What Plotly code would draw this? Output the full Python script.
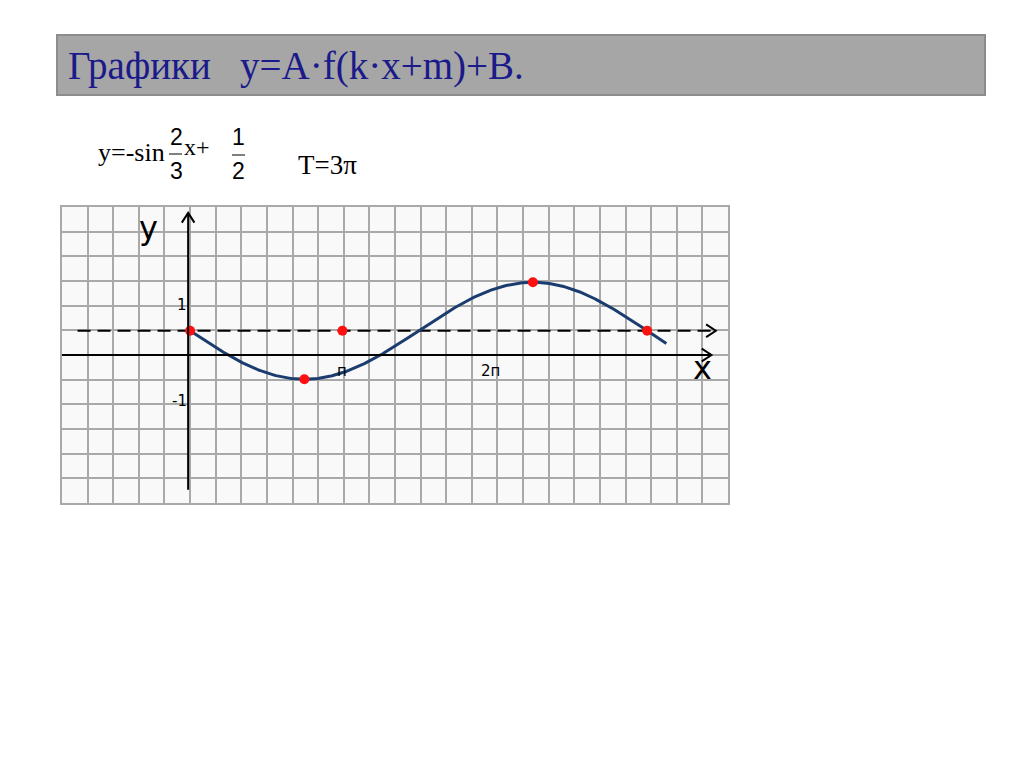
import numpy as np
import plotly.graph_objects as go

# ---- data ----
curve_x_start = 0.0
curve_x_end = 9.82
key_x = [0.0, 3 * np.pi / 4, np.pi, 9 * np.pi / 4, 3 * np.pi]
key_y = [0.5, -0.5, 0.5, 1.5, 0.5]
midline_y = 0.5
x_tick_vals = [np.pi, 2 * np.pi]
x_tick_text = ["п", "2п"]
y_tick_vals = [1.03, -0.95]
y_tick_text = ["1", "-1"]

xs = np.linspace(curve_x_start, curve_x_end, 400)
ys = -np.sin(2.0 / 3.0 * xs) + 0.5

# ---- geometry (page pixel coordinates) ----
W, H = 1024, 767
BODY = 8  # html body margin offset
L, R, T, B = 62, 728, 207, 503
PW, PH = R - L, B - T
UNIT = 48.5
gx = PW / 26 / UNIT
gy = PH / 12 / UNIT
xr = [-5 * gx, 21 * gx]
yr = [-6 * gy, 6 * gy]


def px(x):
    return (x - L) / PW


def py(y):
    return (B - y) / PH


fig = go.Figure()

# dashed midline
fig.add_trace(go.Scatter(x=[-2.32, 10.84], y=[midline_y, midline_y], mode="lines",
                         line=dict(color="black", width=2, dash="13px,7px"),
                         hoverinfo="skip", showlegend=False))
# curve
fig.add_trace(go.Scatter(x=xs, y=ys, mode="lines",
                         line=dict(color="#1b3c6e", width=3),
                         hoverinfo="skip", showlegend=False))
# key points
fig.add_trace(go.Scatter(x=key_x, y=key_y, mode="markers",
                         marker=dict(color="#ff1010", size=10),
                         hoverinfo="skip", showlegend=False))

shapes = []
# axes
shapes.append(dict(type="line", xref="x", yref="y", x0=-2.69, x1=10.75, y0=0, y1=0,
                   line=dict(color="black", width=2)))
shapes.append(dict(type="line", xref="x", yref="y", x0=-0.04, x1=-0.04, y0=-2.78, y1=2.93,
                   line=dict(color="black", width=2)))
# open arrow heads
ah, aw = 0.2, 0.13
for tip, yy in [(10.75, 0), (10.84, midline_y)]:
    shapes.append(dict(type="path", xref="x", yref="y",
                       path=f"M {tip-ah},{yy+aw} L {tip},{yy} L {tip-ah},{yy-aw}",
                       line=dict(color="black", width=2)))
shapes.append(dict(type="path", xref="x", yref="y",
                   path=f"M {-0.04-aw},{2.93-ah} L -0.04,2.93 L {-0.04+aw},{2.93-ah}",
                   line=dict(color="black", width=2)))

# title box
shapes.append(dict(type="rect", xref="paper", yref="paper",
                   x0=px(57), x1=px(985), y0=py(95), y1=py(35),
                   fillcolor="#a6a6a6", line=dict(color="#8c8c8c", width=2), layer="below"))
# fraction bars
shapes.append(dict(type="line", xref="paper", yref="paper", x0=px(169), x1=px(182),
                   y0=py(154), y1=py(154), line=dict(color="black", width=1)))
shapes.append(dict(type="line", xref="paper", yref="paper", x0=px(232), x1=px(245),
                   y0=py(155), y1=py(155), line=dict(color="black", width=1)))

annotations = []


def ann(text, x, y, size, family, color="black", xanchor="center"):
    annotations.append(dict(text=text, x=px(x), y=py(y), xref="paper", yref="paper",
                            showarrow=False, xanchor=xanchor, yanchor="middle",
                            font=dict(size=size, family=family, color=color)))


ann("Графики\u00a0\u00a0 y=A·f(k·x+m)+B.", 66, 66, 39, "Liberation Serif", "#1a1a8a", "left")
ann("y=-sin", 96, 152, 26, "Liberation Serif", xanchor="left")
ann("2", 176, 137, 23, "Liberation Sans")
ann("3", 176, 171, 23, "Liberation Sans")
ann("x+", 182, 147, 24, "Liberation Serif", xanchor="left")
ann("1", 238, 137, 23, "Liberation Sans")
ann("2", 238, 171, 23, "Liberation Sans")
ann("T=3π", 296, 165, 27, "Liberation Serif", xanchor="left")

# axis letters
ann("y", 148, 228, 32, "DejaVu Sans")
ann("x", 702, 368, 32, "DejaVu Sans")

# tick labels (data-positioned)
for v, t in zip(x_tick_vals, x_tick_text):
    annotations.append(dict(text=t, x=v, y=-0.32, xref="x", yref="y", showarrow=False,
                            xshift=-4 if t == "2п" else 0,
                            font=dict(size=15, family="DejaVu Sans", color="black")))
for v, t in zip(y_tick_vals, y_tick_text):
    annotations.append(dict(text=t, x=-0.03, y=v, xref="x", yref="y", showarrow=False,
                            xanchor="right", yanchor="middle",
                            font=dict(size=15, family="DejaVu Sans", color="black")))

grid_color = "#a9a9a9"
fig.update_layout(
    width=W, height=H, autosize=False,
    margin=dict(l=L - BODY, r=W - R + BODY, t=T - BODY, b=H - B + BODY, pad=0),
    paper_bgcolor="white", plot_bgcolor="#f9f9f9",
    shapes=shapes, annotations=annotations,
    xaxis=dict(range=xr, showgrid=True, dtick=gx, tick0=0, gridcolor=grid_color, gridwidth=2,
               zeroline=False, showticklabels=False, ticks="", showline=True, mirror=True,
               linecolor=grid_color, linewidth=2, fixedrange=True),
    yaxis=dict(range=yr, showgrid=True, dtick=gy, tick0=0, gridcolor=grid_color, gridwidth=2,
               zeroline=False, showticklabels=False, ticks="", showline=True, mirror=True,
               linecolor=grid_color, linewidth=2, fixedrange=True),
)

fig.write_html("out.html")
